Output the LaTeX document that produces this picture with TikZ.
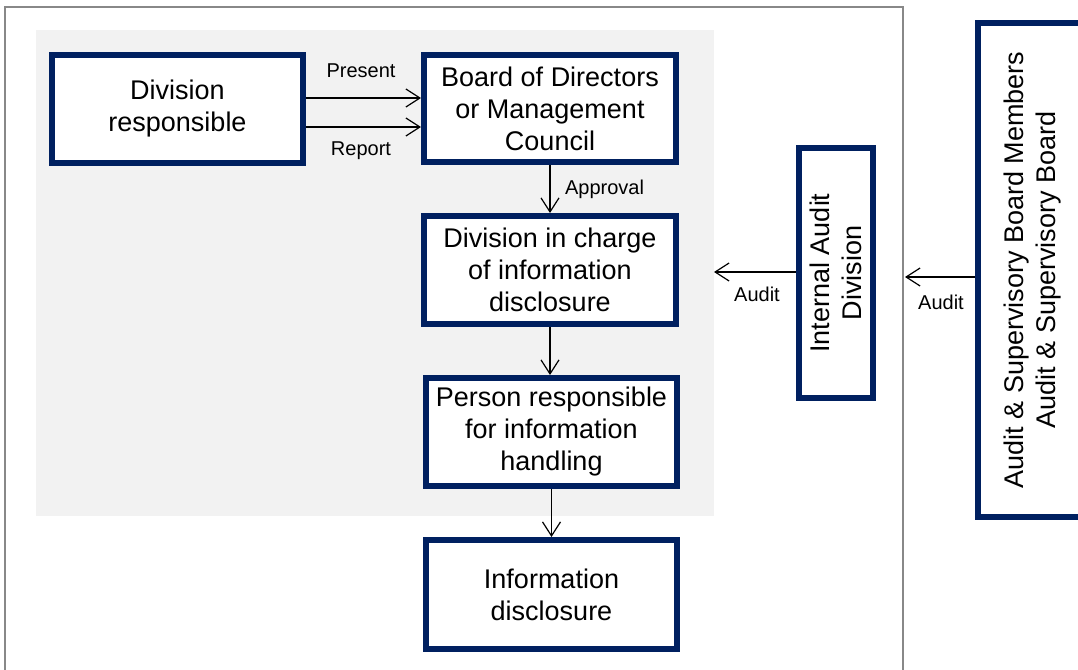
\documentclass[tikz,border=0pt]{standalone}
\usepackage{fontspec}
\setmainfont{Liberation Sans}
\usetikzlibrary{arrows.meta}
\definecolor{navy}{HTML}{002060}
\definecolor{bggray}{HTML}{F2F2F2}
\definecolor{framegray}{HTML}{888888}
\begin{document}
\begin{tikzpicture}[x=1pt,y=-1pt,
  box/.style={draw=navy, line width=6pt, fill=white, inner sep=0pt, outer sep=3pt,
    align=center, font=\fontsize{27}{32}\selectfont},
  lbl/.style={font=\fontsize{20}{24}\selectfont, inner sep=0pt},
  arr/.style={-{Straight Barb[length=14pt,width=18pt]}, line width=1.2pt, black}]
\useasboundingbox (0,0) rectangle (1078,669);
\clip (0,0) rectangle (1078,669);
% outer frame and shaded area
\draw[framegray, line width=2pt, fill=white] (5,7) rectangle (903,720);
\fill[bggray] (36,30) rectangle (714,516);
% boxes
\node[box, minimum width=251pt, minimum height=108pt] (divr) at (177.5,109) {Division\\responsible};
\node[box, minimum width=252pt, minimum height=107pt] (board) at (550,108.5) {Board of Directors\\or Management\\Council};
\node[box, minimum width=252pt, minimum height=108pt] (charge) at (550,270) {Division in charge\\of information\\disclosure};
\node[box, minimum width=251pt, minimum height=108pt] (person) at (551.5,432) {Person responsible\\for information\\handling};
\node[box, minimum width=251pt, minimum height=109pt] (disc) at (551.5,594.5) {Information\\disclosure};
\node[box, rotate=90, minimum width=250pt, minimum height=74pt] (ia) at (836,273) {Internal Audit\\Division};
\node[box, rotate=90, minimum width=493pt, minimum height=110pt] (asb) at (1033,270) {Audit \& Supervisory Board Members\\Audit \& Supervisory Board};
% connectors
\draw[arr] (divr.east |- 0,98) -- (board.west |- 0,98);
\draw[arr] (divr.east |- 0,127) -- (board.west |- 0,127);
\draw[arr] (board.south) -- (charge.north);
\draw[arr] (charge.south) -- (charge.south |- person.north);
\draw[arr] (person.south) -- (disc.north);
\coordinate (t1) at (714,272);
\coordinate (t2) at (905,277);
\draw[arr] (ia.north |- t1) -- (t1);
\draw[arr] (asb.north |- t2) -- (t2);
% labels
\node[lbl] (lpresent) at (361,71) {Present};
\node[lbl] (lreport) at (361,151) {Report};
\node[lbl] (lapproval) at (604.5,189) {Approval};
\node[lbl] (laudit1) at (757,294) {Audit};
\node[lbl] (laudit2) at (941,302) {Audit};
\end{tikzpicture}
\end{document}
